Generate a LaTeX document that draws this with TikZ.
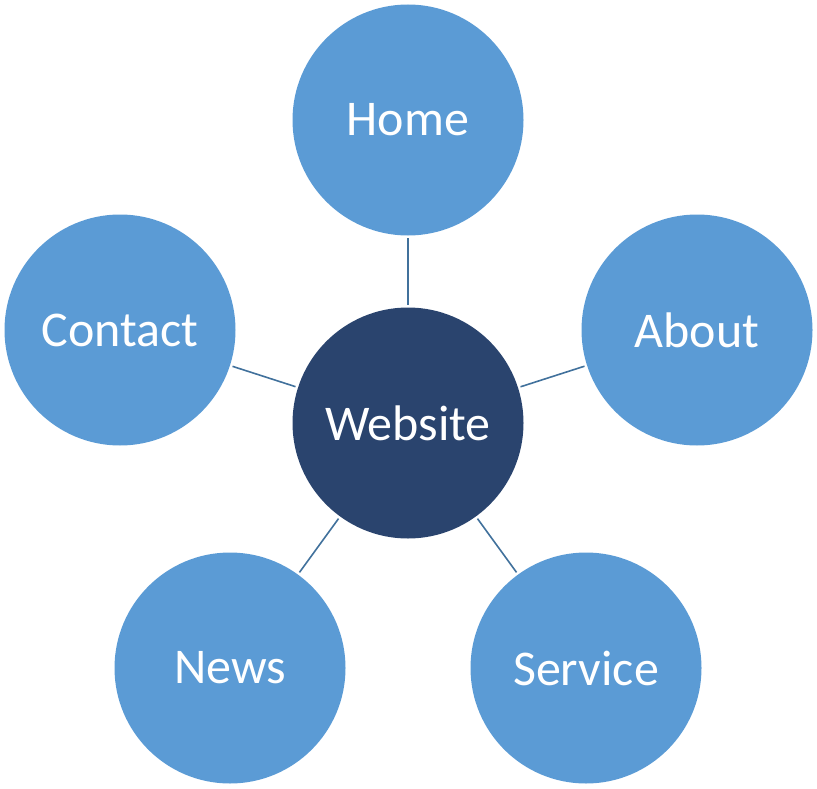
\documentclass[tikz,border=0pt]{standalone}
\usepackage{fontspec}
\setmainfont{Carlito}
\definecolor{outerblue}{HTML}{5B9BD5}
\definecolor{centerblue}{HTML}{2A446E}
\definecolor{linkblue}{HTML}{41719C}
\begin{document}
\begin{tikzpicture}[x=1pt,y=-1pt,
  leaf/.style={circle,fill=outerblue,minimum size=231pt,inner sep=0pt,text=white,font=\fontsize{50}{60}\selectfont},
  hub/.style={circle,fill=centerblue,minimum size=231pt,inner sep=0pt,text=white,font=\fontsize{50}{60}\selectfont},
  link/.style={draw=linkblue,line width=1.6pt,shorten >=2.5pt,shorten <=2.5pt}]
\useasboundingbox (0,0) rectangle (817,789);
\node[hub] (web) at (408,423) {Website};
\node[leaf] (home) at (408,120) {Home};
\node[leaf] (about) at (697,330) {About};
\node[leaf] (contact) at (120,330) {Contact};
\node[leaf] (news) at (230,668) {News};
\node[leaf] (service) at (586,668) {Service};
\draw[link] (web) -- (home);
\draw[link] (web) -- (about);
\draw[link] (web) -- (contact);
\draw[link] (web) -- (news);
\draw[link] (web) -- (service);
\end{tikzpicture}
\end{document}
